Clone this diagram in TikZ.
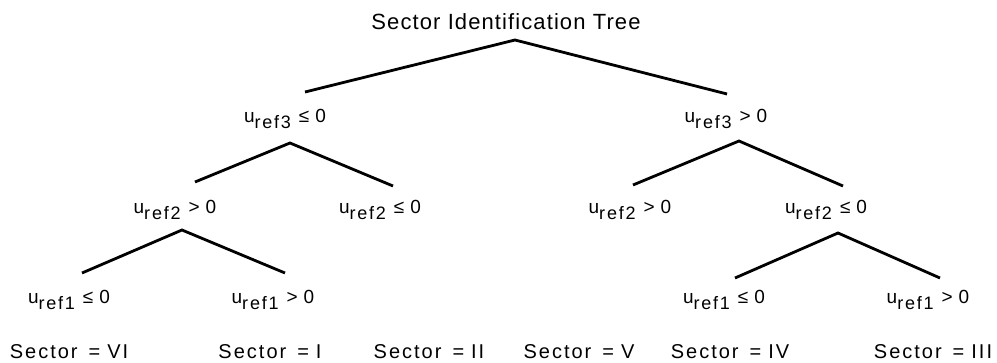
\documentclass[tikz,border=0pt]{standalone}
\usepackage{fontspec}
\setmainfont[LetterSpace=10]{Liberation Sans}
\tikzstyle{cond}=[inner sep=0pt, anchor=base, font=\fontsize{19}{19}\selectfont]
\tikzstyle{sector}=[cond, font=\fontsize{20}{20}\selectfont]
\tikzstyle{branch}=[line width=2.8pt]
\newcommand{\cond}{\node[cond]}
\newcommand{\uref}[2]{u\raisebox{-6pt}{\fontsize{18}{18}\selectfont ref#1}\hspace{8pt}#2\hspace{6pt}0}
\newcommand{\sect}[1]{Sector\hspace{11pt}=\hspace{7pt}#1}

\begin{document}
\begin{tikzpicture}[x=1pt,y=-1pt]
\useasboundingbox (0,0) rectangle (997,362);
\node[cond, font=\fontsize{22}{22}\selectfont\addfontfeature{LetterSpace=5}] (title) at (506,29){Sector Identification Tree};
% conditions
\cond (a) at (285,122){\uref{3}{≤}};
\cond (b) at (726,122){\uref{3}{>}};
\cond (aa) at (175,213){\uref{2}{>}};
\cond (ab) at (380,213){\uref{2}{≤}};
\cond (ba) at (630,213){\uref{2}{>}};
\cond (bb) at (826,213){\uref{2}{≤}};
\cond (aaa) at (69,303){\uref{1}{≤}};
\cond (aab) at (273,303){\uref{1}{>}};
\cond (bba) at (724,303){\uref{1}{≤}};
\cond (bbb) at (928,303){\uref{1}{>}};
% sectors
\node[sector] (s6) at (69,358){\sect{VI}};
\node[sector] (s1) at (270,358){\sect{I}};
\node[sector] (s2) at (429,358){\sect{II}};
\node[sector] (s5) at (579,358){\sect{V}};
\node[sector] (s4) at (730,358){\sect{IV}};
\node[sector] (s3) at (933,358){\sect{III}};
% branch points
\coordinate (title-j) at (515,40);
\coordinate (a-j) at (290,143);
\coordinate (b-j) at (739,141);
\coordinate (aa-j) at (182,230);
\coordinate (bb-j) at (838,233);
\coordinate (a-in) at (305,92);
\coordinate (b-in) at (727,94);
\coordinate (aa-in) at (195,182);
\coordinate (ab-in) at (393,186);
\coordinate (ba-in) at (633,185);
\coordinate (bb-in) at (843,186);
\coordinate (aaa-in) at (82,273);
\coordinate (aab-in) at (285,273);
\coordinate (bba-in) at (735,278);
\coordinate (bbb-in) at (940,278);
\draw[branch] (a-in)--(title-j)--(b-in);
\draw[branch] (aa-in)--(a-j)--(ab-in);
\draw[branch] (ba-in)--(b-j)--(bb-in);
\draw[branch] (aaa-in)--(aa-j)--(aab-in);
\draw[branch] (bba-in)--(bb-j)--(bbb-in);
\end{tikzpicture}
\end{document}
